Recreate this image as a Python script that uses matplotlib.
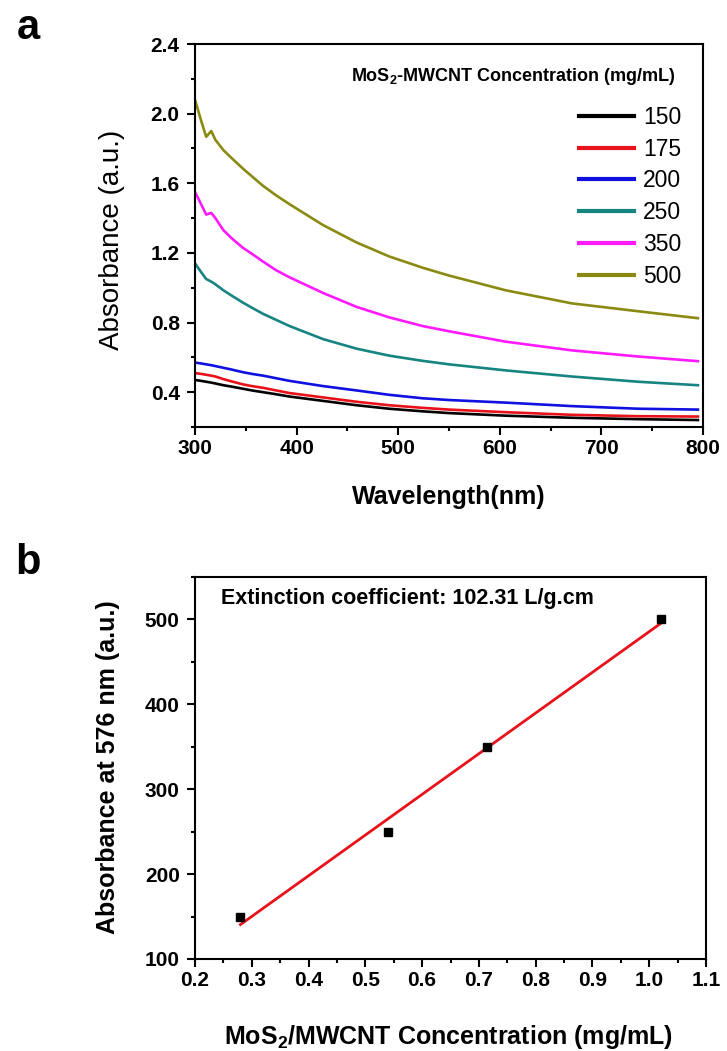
import numpy as np
import matplotlib
matplotlib.use('Agg')
import matplotlib.pyplot as plt
from matplotlib.ticker import MultipleLocator

plt.rcParams['font.family'] = ['Liberation Sans', 'DejaVu Sans']
plt.rcParams['mathtext.fontset'] = 'custom'
plt.rcParams['mathtext.rm'] = 'Liberation Sans'
plt.rcParams['mathtext.bf'] = 'Liberation Sans:bold'

# panel a: UV-vis spectra
wavelength = [300, 306, 311, 316, 320, 328, 336, 347, 356, 367, 380, 393, 426, 459, 491, 524, 550, 606, 671, 736, 795]
abs_150 = [0.47, 0.465, 0.46, 0.455, 0.45, 0.44, 0.432, 0.42, 0.41, 0.40, 0.388, 0.375, 0.35, 0.325, 0.305,
           0.29, 0.28, 0.265, 0.253, 0.245, 0.24]
abs_175 = [0.51, 0.505, 0.50, 0.495, 0.49, 0.475, 0.462, 0.445, 0.435, 0.425, 0.41, 0.395, 0.37, 0.345, 0.325,
           0.31, 0.30, 0.285, 0.27, 0.262, 0.26]
abs_200 = [0.57, 0.565, 0.56, 0.555, 0.55, 0.54, 0.53, 0.515, 0.505, 0.495, 0.48, 0.465, 0.435, 0.41, 0.385,
           0.365, 0.355, 0.34, 0.32, 0.305, 0.30]
abs_250 = [1.14, 1.09, 1.05, 1.035, 1.02, 0.985, 0.955, 0.915, 0.885, 0.85, 0.815, 0.78, 0.705, 0.65, 0.61,
           0.58, 0.56, 0.525, 0.49, 0.46, 0.44]
abs_350 = [1.55, 1.48, 1.42, 1.43, 1.40, 1.33, 1.285, 1.23, 1.195, 1.15, 1.10, 1.06, 0.97, 0.89, 0.83,
           0.78, 0.75, 0.69, 0.64, 0.605, 0.578]
abs_500 = [2.08, 1.96, 1.867, 1.90, 1.85, 1.79, 1.745, 1.685, 1.64, 1.585, 1.53, 1.48, 1.36, 1.26, 1.18,
           1.115, 1.07, 0.985, 0.91, 0.865, 0.825]
series_labels = ['150', '175', '200', '250', '350', '500']
series_colors = ['#000000', '#e8121a', '#1010e0', '#168480', '#ff1aff', '#8a8a12']

# panel b: calibration
conc = [0.28, 0.54, 0.715, 1.02]
abs_576 = [150, 250, 350, 500]

W, H = 727, 1051
fig = plt.figure(figsize=(W / 100, H / 100), dpi=100)


def px_axes(l, r, t, b):
    return fig.add_axes([l / W, 1 - b / H, (r - l) / W, (b - t) / H])


def style(ax):
    for s in ax.spines.values():
        s.set_linewidth(1.5)
    ax.tick_params(which='both', direction='out', top=False, right=False, width=1.5)
    ax.tick_params(which='major', length=6)
    ax.tick_params(which='minor', length=3)
    ax.tick_params(axis='x', pad=3)
    ax.tick_params(axis='y', pad=5)
    for lab in ax.get_xticklabels() + ax.get_yticklabels():
        lab.set_fontsize(15)
        lab.set_fontweight('bold')


# ---- panel a ----
ax1 = px_axes(195, 703, 44, 427)
all_abs = [abs_150, abs_175, abs_200, abs_250, abs_350, abs_500]
for vals, lab, col in zip(all_abs, series_labels, series_colors):
    ax1.plot(wavelength, vals, color=col, lw=1.9, label=lab, solid_joinstyle='round')
ax1.set_xlim(300, 800)
ax1.set_ylim(0.2, 2.4)
ax1.xaxis.set_major_locator(MultipleLocator(100))
ax1.xaxis.set_minor_locator(MultipleLocator(50))
ax1.yaxis.set_minor_locator(MultipleLocator(0.2))
ax1.set_yticks([0.4, 0.8, 1.2, 1.6, 2.0, 2.4])
ax1.set_yticklabels(['0.4', '0.8', '1.2', '1.6', '2.0', '2.4'])
style(ax1)
leg = ax1.legend(loc='center left', bbox_to_anchor=(0.756, 0.601), frameon=False,
                 fontsize=16.5, handlelength=2.4, handletextpad=0.4, labelspacing=0.38,
                 borderpad=0, borderaxespad=0)
for h in leg.get_lines():
    h.set_linewidth(3)
ax1.text(0.627, 0.914, r'MoS$_\mathbf{2}$-MWCNT Concentration (mg/mL)', transform=ax1.transAxes,
         ha='center', va='center', fontsize=13, fontweight='bold')
fig.text(112 / W, 1 - 240 / H, 'Absorbance (a.u.)', rotation=90, ha='center', va='center', fontsize=20)
fig.text(449 / W, 1 - 497 / H, 'Wavelength(nm)', ha='center', va='center', fontsize=18, fontweight='bold')
fig.text(28 / W, 1 - 28 / H, 'a', ha='center', va='center', fontsize=30, fontweight='bold')

# ---- panel b ----
ax2 = px_axes(195, 706, 577, 959)
coef = np.polyfit(conc, abs_576, 1)
fit_x = np.array([conc[0], conc[-1]])
ax2.plot(fit_x, np.polyval(coef, fit_x), color='#e8121a', lw=2)
ax2.plot(conc, abs_576, 's', color='black', ms=6, zorder=3)
ax2.set_xlim(0.2, 1.1)
ax2.set_ylim(100, 550)
ax2.xaxis.set_major_locator(MultipleLocator(0.1))
ax2.xaxis.set_minor_locator(MultipleLocator(0.05))
ax2.yaxis.set_minor_locator(MultipleLocator(50))
ax2.set_yticks([100, 200, 300, 400, 500])
style(ax2)
ax2.text(0.05, 0.945, 'Extinction coefficient: 102.31 L/g.cm', transform=ax2.transAxes,
         ha='left', va='center', fontsize=15.5, fontweight='bold')
fig.text(108 / W, 1 - 767 / H, 'Absorbance at 576 nm (a.u.)', rotation=90, ha='center', va='center',
         fontsize=18, fontweight='bold')
fig.text(448 / W, 1 - 1037 / H, r'MoS$_\mathbf{2}$/MWCNT Concentration (mg/mL)', ha='center', va='center',
         fontsize=18, fontweight='bold')
fig.text(28 / W, 1 - 563 / H, 'b', ha='center', va='center', fontsize=30, fontweight='bold')

fig.savefig('out.png', dpi=100)
